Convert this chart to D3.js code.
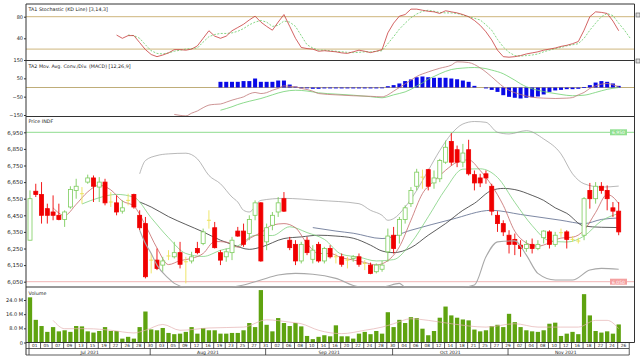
<!DOCTYPE html>
<html><head><meta charset="utf-8">
<script src="https://cdn.jsdelivr.net/npm/d3@7/dist/d3.min.js"></script>
<style>body{margin:0;background:#fff}svg{display:block}text{font-family:"DejaVu Sans",sans-serif;fill:#222}</style>
</head><body><svg id="c" width="640" height="359"></svg>
<script>
// ---------- DATA ----------
const dates = [
"07-01","07-02","07-05","07-06","07-07","07-08","07-09","07-12","07-13","07-14","07-15","07-16","07-19","07-21","07-22","07-23","07-26","07-27","07-28","07-29","07-30",
"08-02","08-03","08-04","08-05","08-06","08-09","08-10","08-12","08-13","08-16","08-18","08-19","08-20","08-23","08-24","08-25","08-26","08-27","08-30","08-31",
"09-01","09-02","09-03","09-06","09-07","09-08","09-09","09-10","09-13","09-14","09-15","09-16","09-17","09-20","09-21","09-22","09-23","09-24","09-27","09-28","09-29","09-30",
"10-01","10-04","10-05","10-06","10-07","10-08","10-11","10-12","10-13","10-14","10-15","10-18","10-19","10-21","10-22","10-25","10-26","10-27","10-28","10-29",
"11-01","11-02","11-03","11-04","11-05","11-08","11-09","11-10","11-11","11-12","11-15","11-16","11-17","11-18","11-19","11-22","11-23","11-24","11-25","11-26"];
const months = [["Jul 2021",1,21],["Aug 2021",22,41],["Sep 2021",42,63],["Oct 2021",64,83],["Nov 2021",84,103]];
const openP = [6300,6595,6575,6490,6470,6450,6425,6500,6600,6580,6650,6675,6620,6650,6530,6525,6475,6540,6575,6450,6400,
6180,6180,6150,6205,6200,6225,6170,6175,6250,6280,6420,6375,6225,6200,6225,6355,6355,6340,6450,6525,
6290,6390,6470,6550,6300,6275,6175,6300,6185,6275,6175,6250,6200,6200,6180,6190,6200,6160,6150,6110,6125,6230,
6330,6330,6425,6520,6625,6680,6725,6645,6670,6770,6895,6845,6770,6845,6695,6675,6700,6625,6450,6400,
6330,6305,6270,6250,6275,6250,6315,6350,6275,6345,6350,6305,6295,6330,6600,6550,6625,6600,6495,6475];
const highP = [6600,6640,6650,6520,6570,6520,6480,6625,6670,6620,6695,6690,6680,6670,6590,6570,6540,6580,6580,6480,6440,
6220,6250,6200,6240,6290,6290,6200,6230,6290,6370,6480,6410,6240,6250,6320,6380,6400,6450,6540,6530,
6400,6470,6560,6590,6320,6300,6290,6320,6270,6290,6260,6270,6220,6220,6200,6210,6220,6180,6165,6160,6175,6370,
6380,6440,6510,6620,6730,6725,6730,6720,6790,6900,6945,6870,6880,6905,6720,6700,6720,6640,6475,6420,
6360,6340,6300,6300,6310,6300,6360,6360,6350,6370,6360,6325,6315,6560,6645,6650,6650,6630,6530,6530];
const lowP = [6300,6560,6400,6400,6420,6420,6380,6490,6550,6520,6640,6530,6530,6510,6500,6450,6460,6510,6490,6360,6070,
6100,6120,6110,6180,6190,6130,6040,6160,6215,6270,6370,6250,6150,6170,6180,6320,6260,6300,6420,6170,
6240,6360,6440,6470,6240,6150,6160,6210,6160,6165,6160,6190,6160,6140,6130,6170,6140,6120,6095,6100,6110,6170,
6220,6280,6400,6500,6600,6610,6600,6610,6650,6760,6750,6740,6740,6690,6600,6620,6640,6450,6350,6325,
6220,6210,6200,6230,6220,6240,6280,6250,6260,6320,6250,6290,6280,6300,6490,6520,6580,6480,6440,6330];
const closeP = [6550,6575,6450,6450,6450,6425,6470,6605,6625,6580,6675,6625,6650,6525,6530,6470,6495,6540,6500,6375,6080,
6180,6130,6175,6205,6225,6155,6170,6200,6225,6350,6420,6255,6180,6230,6300,6325,6275,6425,6525,6175,
6375,6450,6525,6475,6255,6175,6275,6225,6240,6175,6250,6200,6200,6155,6180,6200,6155,6160,6100,6150,6150,6325,
6250,6425,6495,6600,6710,6680,6625,6675,6780,6860,6770,6770,6825,6700,6645,6645,6675,6475,6400,6350,
6275,6275,6250,6275,6250,6275,6355,6275,6330,6345,6305,6305,6295,6550,6550,6625,6600,6550,6475,6350];
const volumeM = [25.5,12.8,9.3,6.0,8.7,6.3,6.9,6.0,9.3,9.1,6.3,5.6,6.5,8.7,6.5,6.5,2.2,3.2,2.2,8.7,17.5,
7.4,6.9,8.2,5.4,4.7,5.0,6.0,8.7,5.0,8.2,6.9,6.9,5.0,5.0,5.4,5.4,6.9,11.0,8.7,29.6,
10.0,6.3,13.8,11.0,9.3,11.0,9.1,3.7,1.9,3.2,4.1,3.5,9.7,3.5,3.5,2.2,5.0,6.0,4.7,6.5,5.0,17.1,
8.7,12.8,11.0,14.3,13.8,7.8,4.1,6.5,14.0,20.3,15.3,14.0,13.0,12.5,7.3,6.3,6.9,9.3,10.0,8.7,
16.2,11.5,8.7,6.9,6.3,6.0,6.9,10.6,11.2,3.7,5.0,6.0,4.7,27.3,15.3,6.5,5.6,6.3,5.0,10.2];
// indicator readings: [bar number, value]
const volMA = [[5,12.5],[7,7.8],[11,7.8],[15,6.9],[19,5.4],[21,6.9],[24,10.2],[27,6.9],[32,8.2],[38,8.7],[42,12.8],[46,11.5],[48,10.6],[51,6.9],[55,5.0],[59,6.9],[62,8.7],[64,10.6],[67,13.4],[70,12.5],[74,10.6],[80,8.7],[85,10.6],[89,8.7],[93,8.7],[96,8.7],[99,12.5],[101,12.5],[103,7.8]];
const stochK = [[16,46],[17,40],[18,45],[19,45],[20,32],[21,19],[22,10],[23,6],[24,9],[25,13],[26,19],[27,19],[28,18],[29,20],[30,26],[31,40],[32,54],[33,44],[34,40],[35,44],[36,54],[37,60],[38,66],[39,74],[40,81],[41,70],[42,62],[43,55],[44,70],[45,84],[46,62],[47,40],[48,23],[49,21],[50,20],[51,16],[52,17],[53,16],[54,15],[55,13],[56,12],[57,15],[58,18],[59,16],[60,13.5],[61,16],[62,19],[63,50],[64,68],[65,81],[66,84],[67,94],[68,94],[69,92],[70,90],[71,89],[72,86],[73,91],[74,89],[75,87],[76,84],[77,80],[78,73],[79,64],[80,52],[81,37],[82,18],[83,6],[84,5],[85,6],[86,8],[87,11],[88,13],[89,15],[90,18],[91,20],[92,22],[93,25],[94,27],[95,30],[96,34],[97,55],[98,80],[99,89],[100,88],[101,86],[102,72],[103,54]];
const stochD = [[18,46],[19,45],[20,40],[21,28],[22,17],[23,12],[24,11],[25,13],[26,16],[27,18],[28,20],[29,21],[30,22],[31,33],[32,43],[33,47],[34,49],[35,49],[36,50],[37,53],[38,58],[39,65],[40,70],[41,73],[42,70],[43,62],[44,64],[45,72],[46,70],[47,62],[48,45],[49,28],[50,22],[51,18],[52,18],[53,17],[54,16],[55,15],[56,14],[57,13.5],[58,14],[59,15],[60,15],[61,16],[62,17],[63,30],[64,43],[65,57],[66,68],[67,78],[68,85],[69,90],[70,92],[71,90],[72,88],[73,87],[74,87],[75,86],[76,83],[77,80],[78,77],[79,74],[80,65],[81,55],[82,38],[83,24],[84,14],[85,8],[86,7],[87,8],[88,9],[89,11],[90,15],[91,18],[92,21],[93,23],[94,26],[95,28],[96,30],[97,40],[98,55],[99,68],[100,80],[101,86],[102,82],[103,68],[104,55],[105,40]];
const macdLine = [[26,-147],[27,-152],[28,-155],[29,-140],[30,-128],[31,-110],[32,-96],[33,-92],[34,-90],[35,-80],[36,-69],[37,-60],[38,-51],[39,-35],[40,-27],[41,-33],[42,-28],[43,-15],[44,-5],[45,9],[46,6],[47,4],[48,-5],[49,-11],[50,-20],[51,-33],[54,-40],[57,-45],[60,-48],[62,-51],[63,-40],[64,-20],[65,0],[66,20],[67,40],[68,60],[70,85],[72,105],[74,122],[75,140],[77,136],[79,107],[81,58],[82,30],[83,4],[84,-15],[86,-38],[88,-53],[90,-58],[92,-60],[94,-58],[95,-55],[96,-40],[97,-27],[98,-5],[99,9],[100,18],[101,22],[102,15],[103,4]];
const macdSignal = [[34,-124],[36,-105],[37,-93],[39,-75],[41,-60],[43,-40],[44,-30],[45,-22],[47,-15],[48,-16],[50,-24],[51,-29],[54,-36],[57,-42],[60,-50],[62,-56],[63,-50],[64,-40],[66,-24],[67,-10],[68,8],[69,25],[70,45],[71,60],[72,75],[74,98],[76,106],[78,109],[80,103],[81,95],[83,75],[84,58],[85,40],[86,20],[87,4],[89,-15],[91,-28],[93,-38],[95,-45],[97,-42],[99,-27],[101,-10],[103,0]];
const macdHistStart = 34;
const macdHist = [31,31,31,31,35,35,49,31,31,31,38,38,16,5,-4,-4,-7,-7,-5,-5,-5,-5,-5,-5,-5,-5,-5,-5,-4,7,13,22,35,44,56,60,56,53,53,53,49,45,38,31,9,0,-5,-13,-24,-42,-51,-56,-60,-56,-53,-49,-38,-24,-16,-13,-9,-9,-7,2,13,27,35,31,22,9];
const ma5 = [[5,6495],[7,6449],[9,6516],[11,6591],[13,6631],[15,6603],[17,6536],[19,6505],[21,6390],[23,6253],[25,6153],[27,6177],[29,6190],[31,6220],[33,6292],[35,6289],[37,6258],[39,6310],[41,6345],[43,6391],[45,6400],[47,6375],[49,6280],[51,6220],[53,6220],[55,6194],[57,6181],[59,6166],[61,6151],[63,6177],[65,6260],[67,6420],[69,6581],[71,6656],[73,6721],[75,6770],[77,6784],[79,6720],[81,6630],[83,6510],[85,6354],[87,6284],[89,6264],[91,6284],[93,6313],[95,6318],[97,6360],[99,6467],[101,6575],[102,6560],[103,6520]];
const ma10 = [[10,6518],[13,6556],[16,6576],[19,6559],[22,6435],[25,6315],[28,6220],[31,6202],[34,6239],[37,6266],[40,6329],[43,6328],[46,6381],[49,6346],[52,6305],[55,6215],[58,6198],[61,6175],[64,6183],[67,6282],[70,6441],[73,6608],[76,6728],[79,6730],[82,6678],[85,6528],[88,6388],[91,6297],[94,6289],[97,6325],[100,6416],[103,6461]];
const ma20 = [[20,6530],[22,6500],[25,6442],[28,6395],[31,6350],[34,6300],[36,6275],[39,6245],[41,6258],[45,6310],[48,6320],[51,6330],[54,6325],[57,6312],[60,6270],[62,6235],[64,6225],[67,6255],[70,6330],[73,6400],[76,6480],[78,6522],[81,6600],[83,6612],[85,6605],[88,6570],[90,6540],[92,6495],[94,6462],[97,6385],[100,6378],[103,6376]];
const ma50 = [[50,6376],[54,6355],[57,6342],[62,6310],[67,6360],[74,6425],[81,6480],[86,6455],[93,6420],[97,6400],[100,6425],[103,6434]];
const bbUpper = [[20,6700],[21,6780],[23,6810],[25,6820],[28,6824],[30,6790],[32,6690],[34,6640],[36,6560],[37,6530],[38,6480],[39,6470],[41,6540],[45,6552],[51,6540],[58,6520],[60,6480],[62,6450],[63,6420],[64,6430],[66,6500],[68,6600],[70,6720],[72,6840],[74,6940],[76,7000],[78,7015],[80,7010],[82,6950],[84,6940],[87,6960],[90,6910],[93,6820],[95,6700],[97,6640],[100,6620],[103,6626]];
const bbLower = [[20,6360],[21,6280],[22,6220],[23,6150],[25,6070],[26,6040],[28,5990],[30,5930],[32,5960],[34,6000],[36,6010],[38,6030],[41,6060],[44,6090],[47,6100],[50,6095],[54,6070],[58,6020],[60,6005],[62,6010],[65,6040],[66,6010],[68,5920],[70,5880],[74,5880],[76,5950],[78,6030],[80,6200],[82,6290],[85,6296],[87,6210],[89,6100],[92,6060],[95,6060],[98,6120],[100,6130],[103,6125]];
const priceLines = [[6950,"#8fdc8f","#90e090"],[6050,"#f0b4b4","#f4a0a0"]];
const priceTicks = [6050,6150,6250,6350,6450,6550,6650,6750,6850,6950];
const stochTicks = [40,80], stochLevels = [20,80];
const macdTicks = [-150,-50,50,150];
const volTicks = [0,8,16,24];

// ---------- LAYOUT ----------
const svg = d3.select("#c");
const L = 26, R = 634.5;
const P = {stoch:[4,60.5], macd:[60.5,116.5], price:[116.5,287], vol:[287,342.5]};
const x = d3.scaleLinear().domain([1,103]).range([30,618.7]);
const yS = d3.scaleLinear().domain([0,100]).range([59.9,5.9]);
const yM = d3.scaleLinear().domain([-150,150]).range([115,60]);
const yP = d3.scaleLinear().domain([6050,6950]).range([281.7,132.3]);
const yV = d3.scaleLinear().domain([0,24]).range([342.5,300]);
const defs = svg.append("defs");
for (const [k,[t,b]] of Object.entries(P)) {
  defs.append("clipPath").attr("id","clip-"+k).append("rect").attr("x",L).attr("y",t).attr("width",R-L).attr("height",b-t);
}
const g = k => svg.append("g").attr("clip-path","url(#clip-"+k+")");
const line = (ys, curve) => d3.line().x(d=>x(d[0])).y(d=>ys(d[1])).curve(curve||d3.curveLinear);

// ---------- STOCHASTIC ----------
const gs = g("stoch");
gs.selectAll("line.lv").data(stochLevels).join("line").attr("x1",L).attr("x2",R).attr("y1",d=>yS(d)).attr("y2",d=>yS(d)).attr("stroke","#c8ae6e").attr("stroke-width",0.9);
gs.append("path").datum(stochD).attr("d",line(yS)).attr("fill","none").attr("stroke","#66cc66").attr("stroke-width",0.8).attr("stroke-dasharray","2,1.5");
gs.append("path").datum(stochK).attr("d",line(yS)).attr("fill","none").attr("stroke","#c83c3c").attr("stroke-width",0.8);

// ---------- MACD ----------
const gm = g("macd");
gm.append("line").attr("x1",L).attr("x2",R).attr("y1",yM(0)).attr("y2",yM(0)).attr("stroke","#b8a46a").attr("stroke-width",0.9);
gm.selectAll("rect").data(macdHist.map((v,i)=>[i+macdHistStart,v]).filter(d=>d[1]!==0)).join("rect")
  .attr("x",d=>x(d[0])-2).attr("width",4)
  .attr("y",d=>Math.min(yM(0),yM(d[1]))).attr("height",d=>Math.max(0.8,Math.abs(yM(d[1])-yM(0))))
  .attr("fill","#0a0ae6");
gm.append("path").datum(macdSignal).attr("d",line(yM,d3.curveMonotoneX)).attr("fill","none").attr("stroke","#70d070").attr("stroke-width",0.8);
gm.append("path").datum(macdLine).attr("d",line(yM,d3.curveMonotoneX)).attr("fill","none").attr("stroke","#c07878").attr("stroke-width",0.8);

// ---------- PRICE ----------
const gp = g("price");
priceLines.forEach(([v,c])=>gp.append("line").attr("x1",L).attr("x2",R).attr("y1",yP(v)).attr("y2",yP(v)).attr("stroke",c).attr("stroke-width",1));
gp.append("path").datum(bbUpper).attr("d",line(yP,d3.curveMonotoneX)).attr("fill","none").attr("stroke","#9a9a9a").attr("stroke-width",0.7);
gp.append("path").datum(ma50).attr("d",line(yP,d3.curveMonotoneX)).attr("fill","none").attr("stroke","#5c6a8c").attr("stroke-width",0.8);
gp.append("path").datum(ma20).attr("d",line(yP,d3.curveMonotoneX)).attr("fill","none").attr("stroke","#333").attr("stroke-width",0.8);
gp.append("path").datum(ma10).attr("d",line(yP,d3.curveMonotoneX)).attr("fill","none").attr("stroke","#7fd07f").attr("stroke-width",0.8);
gp.append("path").datum(ma5).attr("d",line(yP,d3.curveMonotoneX)).attr("fill","none").attr("stroke","#c46a6a").attr("stroke-width",0.8);

const bars = d3.range(103).map(i=>({i:i+1,o:openP[i],h:highP[i],l:lowP[i],c:closeP[i]}));
const col = d => d.c>d.o ? "#7ccc5c" : d.c<d.o ? "#f00000" : "#ece25a";
const cg = gp.selectAll("g.cd").data(bars).join("g");
cg.append("line").attr("x1",d=>x(d.i)).attr("x2",d=>x(d.i)).attr("y1",d=>yP(d.h)).attr("y2",d=>yP(d.l)).attr("stroke",col).attr("stroke-width",0.9);
cg.filter(d=>d.c!==d.o).append("rect")
  .attr("x",d=>x(d.i)-2).attr("width",4)
  .attr("y",d=>yP(Math.max(d.o,d.c))).attr("height",d=>Math.max(1,Math.abs(yP(d.o)-yP(d.c))))
  .attr("fill",d=>d.c>d.o?"#fff":"#f00000").attr("stroke",d=>d.c>d.o?"#7ccc5c":"#f00000").attr("stroke-width",0.8);
cg.filter(d=>d.c===d.o).append("line").attr("x1",d=>x(d.i)-2).attr("x2",d=>x(d.i)+2).attr("y1",d=>yP(d.c)).attr("y2",d=>yP(d.c)).attr("stroke","#ece25a").attr("stroke-width",1);

// ---------- VOLUME ----------
const gv = g("vol");
gv.selectAll("rect").data(volumeM.map((v,i)=>[i+1,v])).join("rect")
  .attr("x",d=>x(d[0])-2.15).attr("width",4.3).attr("y",d=>yV(d[1])).attr("height",d=>yV(0)-yV(d[1])).attr("fill","#5fa310");
gv.append("path").datum(volMA).attr("d",line(yV,d3.curveMonotoneX)).attr("fill","none").attr("stroke","#e4b0b0").attr("stroke-width",0.7);

// ---------- FRAMES ----------
const fr = svg.append("g").attr("stroke","#333").attr("stroke-width",1);
[4,60.5,116.5,287,342.5].forEach(y=>fr.append("line").attr("x1",L).attr("x2",R).attr("y1",y).attr("y2",y));
fr.append("line").attr("x1",L).attr("x2",L).attr("y1",4).attr("y2",355);
fr.append("line").attr("x1",R).attr("x2",R).attr("y1",4).attr("y2",342.5);
// lower band clamped at the panel floor, drawn over the floor line
svg.append("path").datum(bbLower).attr("d",d3.line().x(d=>x(d[0])).y(d=>Math.min(287,yP(d[1]))).curve(d3.curveMonotoneX))
  .attr("fill","none").attr("stroke","#a8a8a8").attr("stroke-width",1.1);

// right side markers
[[636,13],[636,59]].forEach(([a,b])=>svg.append("rect").attr("x",a).attr("y",b).attr("width",4).attr("height",4).attr("fill","#ddd").attr("stroke","#555").attr("stroke-width",0.6));

// price level tags
priceLines.forEach(([v,,c])=>{
  svg.append("rect").attr("x",610).attr("y",yP(v)-3).attr("width",17).attr("height",6).attr("fill",c);
  svg.append("text").attr("x",618.5).attr("y",yP(v)+1.8).attr("text-anchor","middle").style("font-size","4.5px").style("fill","#fff").text(d3.format(",")(v));
});

// ---------- AXES ----------
function yAxis(scale, ticks, fmt, fs){
  const a = svg.append("g").attr("transform",`translate(${L},0)`)
    .call(d3.axisLeft(scale).tickValues(ticks).tickFormat(fmt).tickSize(2).tickPadding(1));
  a.select(".domain").remove();
  a.selectAll("line").attr("stroke","#333");
  a.selectAll("text").style("font-size",fs).style("font-family","DejaVu Sans").attr("fill","#222");
}
yAxis(yS, stochTicks, d3.format("d"), "5px");
yAxis(yM, macdTicks, d3.format("d"), "5px");
yAxis(yP, priceTicks, d3.format(","), "5.5px");
yAxis(yV, volTicks, v=>v===0?"0":v.toFixed(1)+" M", "5px");

// titles
[["TA1 Stochastic (KD Line) [3,14,3]",10.5],["TA2 Mov. Avg. Conv./Div. (MACD) [12,26,9]",67.5],["Price INDF",123],["Volume",294.5]]
  .forEach(([t,y])=>svg.append("text").attr("x",28.5).attr("y",y).style("font-size","4.8px").text(t));

// date row
const ax = svg.append("g");
const labIdx = d3.range(0,103,2);
ax.selectAll("line.d").data(labIdx.concat([104])).join("line")
  .attr("x1",d=>x(d+1)-1).attr("x2",d=>x(d+1)-1).attr("y1",342.5).attr("y2",348.5).attr("stroke","#333").attr("stroke-width",0.8);
ax.append("line").attr("x1",L).attr("x2",x(105)-1).attr("y1",348.5).attr("y2",348.5).attr("stroke","#333").attr("stroke-width",0.8);
ax.selectAll("text.d").data(labIdx).join("text")
  .attr("x",d=>x(d+1)+4.8).attr("y",347.3).attr("text-anchor","middle").style("font-size","4.3px").text(d=>dates[d].slice(3));
// month row
ax.selectAll("line.m").data(months.map(m=>m[1]).concat([105])).join("line")
  .attr("x1",d=>x(d)-1).attr("x2",d=>x(d)-1).attr("y1",348.5).attr("y2",355).attr("stroke","#333").attr("stroke-width",0.8);
ax.append("line").attr("x1",L).attr("x2",x(105)-1).attr("y1",355).attr("y2",355).attr("stroke","#333").attr("stroke-width",0.8);
ax.selectAll("text.m").data(months).join("text")
  .attr("x",d=>(x(d[1])+x(d[2]+1))/2-1).attr("y",353.6).attr("text-anchor","middle").style("font-size","4.5px").text(d=>d[0]);
</script></body></html>
